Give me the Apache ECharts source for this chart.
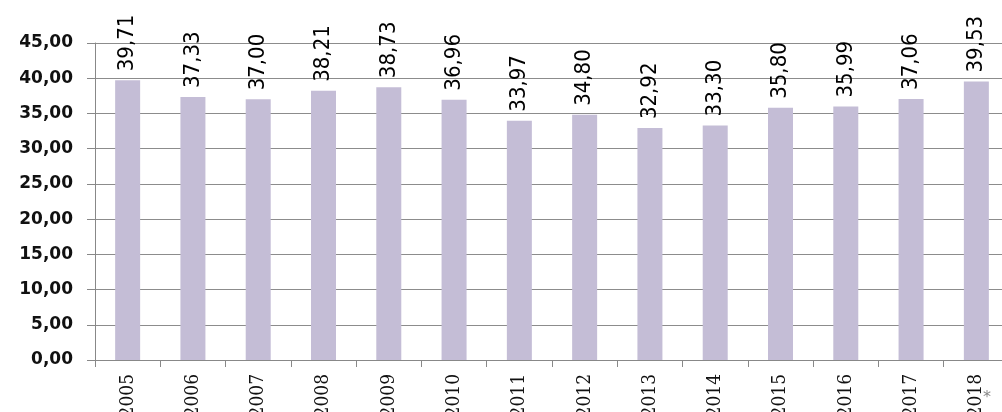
<!DOCTYPE html>
<html>
<head>
<meta charset="utf-8">
<script src="https://cdn.jsdelivr.net/npm/echarts@6/dist/echarts.min.js"></script>
<style>
html,body{margin:0;padding:0;background:#fff;}
#chart{width:1002px;height:412px;}
</style>
</head>
<body>
<div id="chart"></div>
<script>
const years = ['2005','2006','2007','2008','2009','2010','2011','2012','2013','2014','2015','2016','2017','2018'];
const values = [39.71, 37.33, 37.00, 38.21, 38.73, 36.96, 33.97, 34.80, 32.92, 33.30, 35.80, 35.99, 37.06, 39.53];
const yMin = 0, yMax = 45, yStep = 5;

const fmt = v => Number(v).toFixed(2).replace('.', ',');

const chart = echarts.init(document.getElementById('chart'));
chart.setOption({
  animation: false,
  backgroundColor: '#ffffff',
  grid: { left: 95, right: -7, top: 43, bottom: 52, containLabel: false, outerBoundsMode: 'none' },
  xAxis: {
    type: 'category',
    data: years,
    axisLine: { show: true, lineStyle: { color: '#888888', width: 1 } },
    axisTick: { show: true, alignWithLabel: false, length: 7, lineStyle: { color: '#888888' } },
    axisLabel: {
      rotate: 90, margin: 14, color: '#111111',
      fontFamily: 'DejaVu Serif Condensed', fontSize: 19
    },
    splitLine: { show: false }
  },
  yAxis: {
    type: 'value',
    min: yMin, max: yMax, interval: yStep,
    axisLine: { show: true, lineStyle: { color: '#888888', width: 1 } },
    axisTick: { show: true, length: 8, lineStyle: { color: '#888888' } },
    axisLabel: {
      formatter: fmt, margin: 22, color: '#111111',
      fontFamily: 'DejaVu Sans', fontWeight: 'bold', fontSize: 17
    },
    splitLine: { show: true, lineStyle: { color: '#8c8c8c', width: 1 } }
  },
  series: [{
    type: 'bar',
    data: values,
    barWidth: 25,
    itemStyle: { color: '#c4bdd6' },
    label: {
      show: true, position: 'top', rotate: 90, align: 'left', verticalAlign: 'middle',
      distance: 9, formatter: p => fmt(p.value), color: '#000000',
      fontFamily: 'DejaVu Sans Condensed', fontSize: 22
    }
  }],
  graphic: [{
    type: 'text', left: 983, top: 390,
    style: { text: '*', fill: '#888888', font: '16px DejaVu Sans' }
  }]
});
</script>
</body>
</html>
